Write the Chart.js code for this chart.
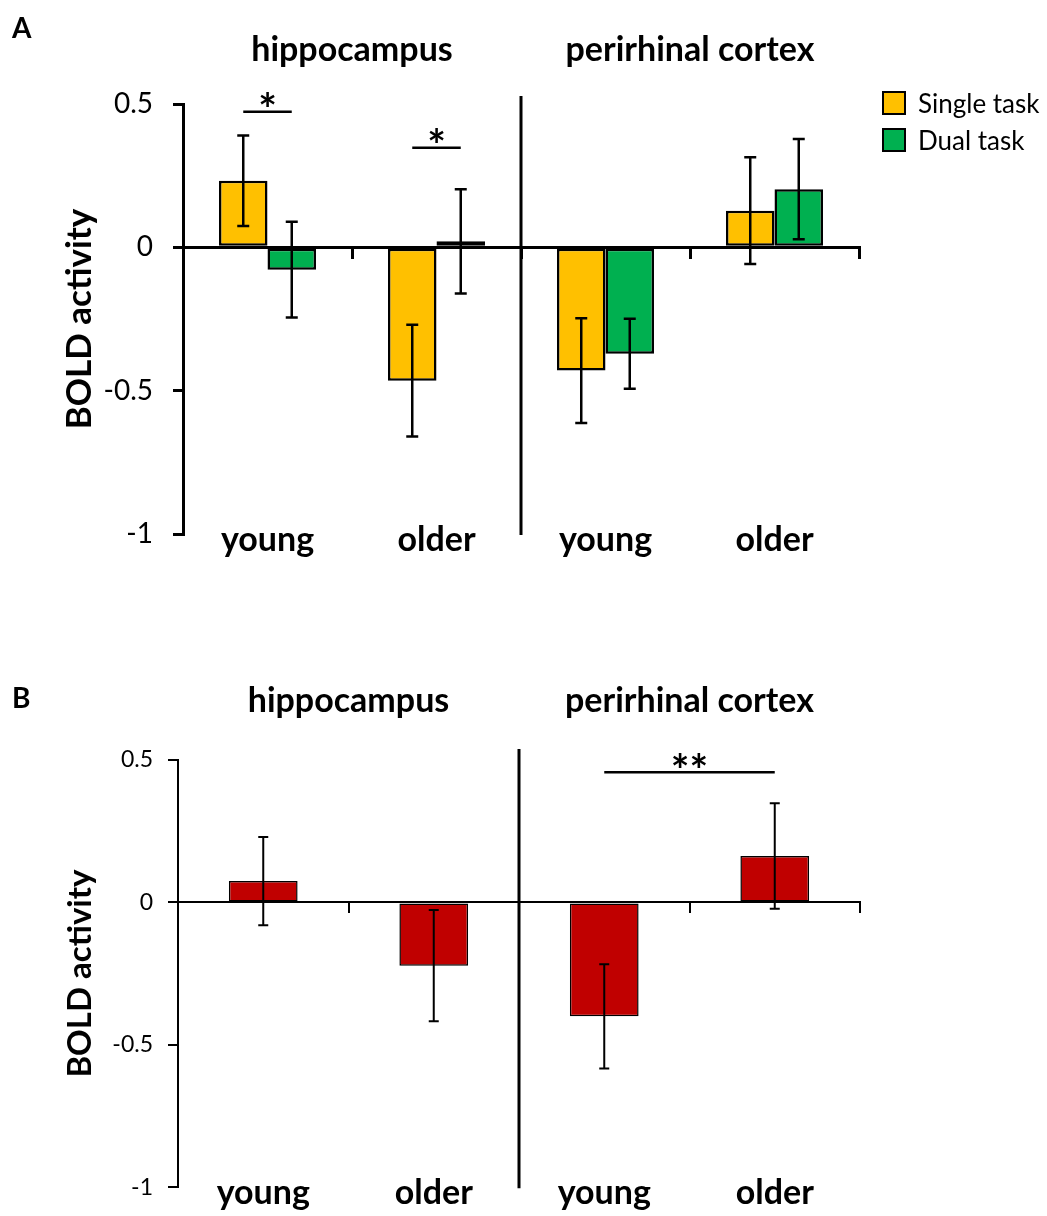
<!DOCTYPE html>
<html>
<head>
<meta charset="utf-8">
<script src="https://cdn.jsdelivr.net/npm/chart.js@4.4.1/dist/chart.umd.min.js"></script>
<style>
  body { margin: 0; background: #fff; }
  .wrap { position: absolute; left: 0; }
</style>
</head>
<body>
<div class="wrap" style="top:0"><canvas id="chartA" width="1047" height="620"></canvas></div>
<div class="wrap" style="top:620px"><canvas id="chartB" width="1047" height="596"></canvas></div>
<script>
// data
const groups = ['young', 'older', 'young', 'older'];
const regions = ['hippocampus', 'perirhinal cortex'];
const yTicks = [0.5, 0, -0.5, -1];

// panel A
const singleTask = [0.232, -0.465, -0.43, 0.128];
const singleTaskErr = [0.158, 0.195, 0.183, 0.186];
const dualTask = [-0.078, 0.021, -0.371, 0.203];
const dualTaskErr = [0.167, 0.182, 0.122, 0.175];

// panel B
const diffValues = [0.075, -0.222, -0.40, 0.163];
const diffErr = [0.155, 0.195, 0.183, 0.185];

// significance bars: [dataset from, index from, dataset to, index to, y value, label]
const sigA = [[0, 0, 1, 0, 0.473, '*'], [0, 1, 1, 1, 0.347, '*']];
const sigB = [[0, 2, 0, 3, 0.457, '**']];

Chart.defaults.font.family = 'Lato';
Chart.defaults.color = '#000';

const panelPlugin = {
  id: 'panel',
  afterDatasetsDraw(chart, args, o) {
    const ctx = chart.ctx, y = chart.scales.y;
    ctx.save();
    ctx.strokeStyle = '#000';
    ctx.lineWidth = o.errWidth;
    chart.data.datasets.forEach((ds, di) => {
      chart.getDatasetMeta(di).data.forEach((bar, i) => {
        const hi = y.getPixelForValue(ds.data[i] + o.errors[di][i]);
        const lo = y.getPixelForValue(ds.data[i] - o.errors[di][i]);
        ctx.beginPath();
        ctx.moveTo(bar.x, hi); ctx.lineTo(bar.x, lo);
        ctx.moveTo(bar.x - o.cap, hi); ctx.lineTo(bar.x + o.cap, hi);
        ctx.moveTo(bar.x - o.cap, lo); ctx.lineTo(bar.x + o.cap, lo);
        ctx.stroke();
      });
    });
    ctx.restore();
  },
  afterDraw(chart, args, o) {
    const { ctx, chartArea: area, scales: { x, y } } = chart;
    ctx.save();
    ctx.strokeStyle = '#000';
    ctx.fillStyle = '#000';

    // vertical line between the two regions
    const mid = (x.getPixelForValue(1) + x.getPixelForValue(2)) / 2;
    ctx.lineWidth = 3;
    ctx.beginPath();
    ctx.moveTo(mid, area.top - o.dividerUp);
    ctx.lineTo(mid, area.bottom + 1);
    ctx.stroke();

    // region titles and group labels
    ctx.font = 'bold 34px Lato';
    ctx.textAlign = 'center';
    ctx.textBaseline = 'alphabetic';
    regions.forEach((name, r) => {
      const cx = (x.getPixelForValue(2 * r) + x.getPixelForValue(2 * r + 1)) / 2;
      ctx.fillText(name, cx, area.top - o.titleGap);
    });
    chart.data.labels.forEach((lab, i) => {
      ctx.fillText(lab, x.getPixelForValue(i), area.bottom + 17);
    });

    // panel letter
    ctx.textAlign = 'left';
    ctx.font = 'bold 28px Lato';
    ctx.fillText(o.letter, 12, o.letterY);

    // significance
    ctx.lineWidth = 2.5;
    ctx.font = 'bold 44px Lato';
    ctx.textAlign = 'center';
    o.sig.forEach(([d0, i0, d1, i1, v, text]) => {
      const x0 = chart.getDatasetMeta(d0).data[i0].x;
      const x1 = chart.getDatasetMeta(d1).data[i1].x;
      const py = y.getPixelForValue(v);
      ctx.beginPath();
      ctx.moveTo(x0, py); ctx.lineTo(x1, py);
      ctx.stroke();
      const m = ctx.measureText(text);
      const ty = py - 12 - (m.actualBoundingBoxDescent - m.actualBoundingBoxAscent) / 2;
      ctx.fillText(text, (x0 + x1) / 2, ty);
    });

    // legend
    if (o.legend) {
      ctx.font = '26px Lato';
      ctx.textAlign = 'left';
      ctx.lineWidth = 2;
      chart.data.datasets.forEach((ds, i) => {
        const bx = area.right + 24, by = area.top - 12 + i * 37;
        ctx.fillStyle = ds.backgroundColor;
        ctx.fillRect(bx, by, 22, 22);
        ctx.strokeRect(bx, by, 22, 22);
        ctx.fillStyle = '#000';
        ctx.fillText(ds.label, bx + 35, by + 21);
      });
    }
    ctx.restore();
  }
};

function makeChart(id, datasets, cfg) {
  datasets.forEach(ds => {
    ds.borderColor = '#000';
    ds.borderWidth = cfg.barBorder;
    ds.borderSkipped = false;
    ds.categoryPercentage = cfg.catPct;
    ds.barPercentage = 1;
  });
  return new Chart(document.getElementById(id), {
    type: 'bar',
    data: { labels: groups, datasets },
    plugins: [panelPlugin],
    options: {
      responsive: false,
      animation: false,
      layout: { padding: { top: cfg.top, right: cfg.right, bottom: cfg.bottom, left: 0 } },
      plugins: {
        legend: { display: false },
        tooltip: { enabled: false },
        panel: cfg.panel
      },
      scales: {
        x: {
          type: 'category',
          position: { y: 0 },
          offset: true,
          z: 1,
          ticks: { display: false },
          border: { color: '#000', width: cfg.axisWidth },
          grid: { offset: true, drawOnChartArea: false, drawTicks: true, tickLength: 10, color: '#000', lineWidth: cfg.axisWidth },
          afterFit(s) { s.height = 0; }
        },
        y: {
          min: yTicks[yTicks.length - 1],
          max: yTicks[0],
          ticks: {
            stepSize: 0.5,
            callback: v => String(v),
            font: { size: cfg.tickSize },
            padding: cfg.tickPad,
            color: '#000'
          },
          border: { color: '#000', width: cfg.axisWidth },
          grid: { drawOnChartArea: false, drawTicks: true, tickLength: 10, color: '#000', lineWidth: cfg.axisWidth },
          title: {
            display: true,
            text: 'BOLD activity',
            color: '#000',
            font: { size: cfg.titleSize, weight: 'bold' },
            padding: { top: 80 - cfg.titleSize * 0.6, bottom: 0 }
          },
          afterFit(s) { s.width = cfg.left; }
        }
      }
    }
  });
}

makeChart('chartA', [
  { label: 'Single task', data: singleTask, backgroundColor: '#FFC000' },
  { label: 'Dual task', data: dualTask, backgroundColor: '#00B050' }
], {
  top: 104, right: 188, bottom: 86, left: 183,
  catPct: 0.574, barBorder: 2.5, axisWidth: 3, tickSize: 28, tickPad: 20, titleSize: 35,
  panel: { errors: [singleTaskErr, dualTaskErr], errWidth: 2.5, cap: 6, sig: sigA, letter: 'A', letterY: 38, titleGap: 43, dividerUp: 8, legend: true }
});

makeChart('chartB', [
  { label: 'Single minus dual task', data: diffValues, backgroundColor: '#C00000' }
], {
  top: 140, right: 187, bottom: 26, left: 178,
  catPct: 0.403, barBorder: 1.5, axisWidth: 2, tickSize: 23, tickPad: 15, titleSize: 33,
  panel: { errors: [diffErr], errWidth: 2, cap: 5, sig: sigB, letter: 'B', letterY: 88, titleGap: 48, dividerUp: 11, legend: false }
});
</script>
</body>
</html>
